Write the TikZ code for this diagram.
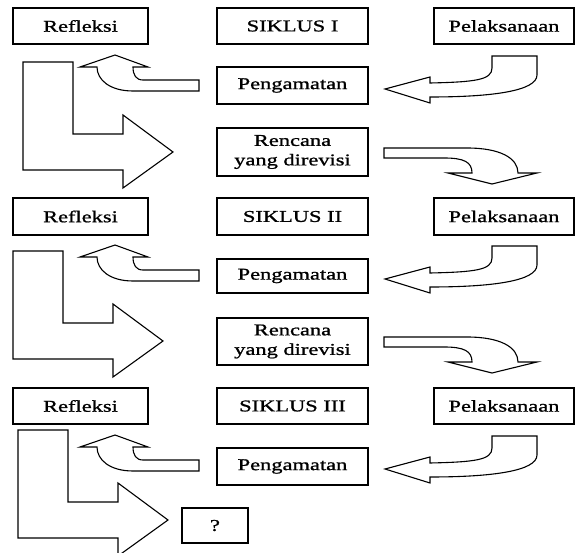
\documentclass[tikz,border=0pt]{standalone}
\usepackage{fontspec}
\newfontfamily\tnr[FakeStretch=1.36,FakeBold=1.1]{Liberation Serif}
\tikzset{
  blk/.style={draw, line width=1.1pt, fill=white, line join=miter},
  box/.style={draw, line width=1.1pt, inner sep=0pt, align=center,
    font=\tnr\fontsize{16.5}{19.5}\selectfont},
  lbox/.style={box, minimum width=135pt},
  mbox/.style={box, minimum width=151pt},
  rbox/.style={box, minimum width=140pt},
  upcurve/.pic={\draw[blk] (0,0) -- (-56,0) .. controls (-63,0) and (-66,-5) .. (-66,-13)
      -- (-51,-13) -- (-84,-25) -- (-119,-13) -- (-102,-13)
      .. controls (-102,0) and (-89,11) .. (-66,11) -- (0,11) -- cycle;},
  bentleft/.pic={\draw[blk] (0,0) -- (45,0) -- (45,19) .. controls (45,35) and (0,41) .. (-62,41)
      -- (-62,47) -- (-107,33) -- (-62,21) -- (-62,27)
      .. controls (-17,26) and (0,24) .. (0,12) -- cycle;},
  downcurve/.pic={\draw[blk] (0,0) -- (83,0) .. controls (116,0) and (134,10) .. (134,25)
      -- (153,25) -- (108,36) -- (64,25) -- (88,25)
      .. controls (88,14) and (80,10) .. (60,10) -- (0,10) -- cycle;},
  lshape/.pic={\draw[blk] (0,0) -- (50,0) -- (50,72) -- (100,72) -- (100,53) -- (150,90)
      -- (100,126) -- (100,108) -- (0,108) -- cycle;}
}
\begin{document}
\begin{tikzpicture}[x=1pt,y=-1pt]
\useasboundingbox (0,0) rectangle (576,553);
\clip (0,0) rectangle (576,553);
% row 1
\node[lbox, minimum height=36pt] (ref1) at (80.5,26) {Refleksi};
\node[mbox, minimum height=36pt] (sik1) at (292.5,26) {SIKLUS I};
\node[rbox, minimum height=36pt] (pel1) at (504,26) {Pelaksanaan};
\node[mbox, minimum height=37pt] (peng1) at (292.5,85.5) {Pengamatan};
\node[mbox, minimum height=48pt] (ren1) at (292.5,152) {Rencana\\yang direvisi};
\pic at (23,62) {lshape};
\pic at (199,80) {upcurve};
\pic at (492,56) {bentleft};
\pic at (384,148) {downcurve};
% row 2
\node[lbox, minimum height=37pt] (ref2) at (80.5,216.5) {Refleksi};
\node[mbox, minimum height=37pt] (sik2) at (292.5,216.5) {SIKLUS II};
\node[rbox, minimum height=37pt] (pel2) at (504,216.5) {Pelaksanaan};
\node[mbox, minimum height=34pt] (peng2) at (292.5,276) {Pengamatan};
\node[mbox, minimum height=47pt] (ren2) at (292.5,341.5) {Rencana\\yang direvisi};
\pic at (13,251) {lshape};
\pic at (199,270) {upcurve};
\pic at (492,246) {bentleft};
\pic at (384,337) {downcurve};
% row 3
\node[lbox, minimum height=36pt] (ref3) at (80.5,406) {Refleksi};
\node[mbox, minimum height=36pt] (sik3) at (292.5,406) {SIKLUS III};
\node[rbox, minimum height=36pt] (pel3) at (504,406) {Pelaksanaan};
\node[mbox, minimum height=37pt] (peng3) at (292.5,466.5) {Pengamatan};
\pic at (18,430) {lshape};
\pic at (199,460) {upcurve};
\pic at (492,436) {bentleft};
\node[box, minimum width=66pt, minimum height=35pt] (q) at (215,525.5) {?};
\end{tikzpicture}
\end{document}
